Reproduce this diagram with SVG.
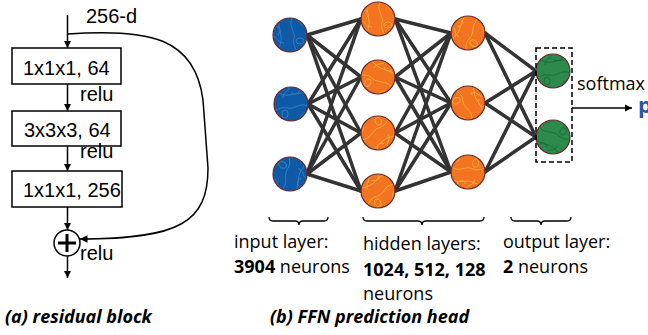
<svg xmlns="http://www.w3.org/2000/svg" xmlns:xlink="http://www.w3.org/1999/xlink" width="648" height="335" viewBox="0 0 648 335">
  <style>
    .arial { font-family: "Liberation Sans", Arial, sans-serif; font-size: 20px; fill: #000; }
    .lbl { font-family: "Open Sans", "DejaVu Sans", sans-serif; font-size: 18px; fill: #000; }
    .b { font-weight: bold; }
    .cap { font-family: "Open Sans", "DejaVu Sans", sans-serif; font-size: 18px; font-weight: bold; font-style: italic; fill: #000; }
    .box { fill: #fff; stroke: #000; stroke-width: 1.5; }
    .flow { stroke: #000; stroke-width: 1.5; fill: none; }
    .edge { stroke: #333; stroke-width: 3.5; stroke-linecap: round; }
    .brace { stroke: #000; stroke-width: 1.3; fill: none; }
    .node { stroke: #6b2c2c; stroke-width: 1.2; }
    .blue { fill: #0f5aa6; }
    .orange { fill: #f27320; }
    .green { fill: #2b8a4c; }
    .topo-blue { stroke: #3c84c6; }
    .topo-orange { stroke: #f9b23e; }
    .topo-green { stroke: #1c6a38; }
  </style>
  <defs>
    <marker id="arr" viewBox="0 0 10 10" refX="10" refY="5" markerWidth="5" markerHeight="5" orient="auto" markerUnits="strokeWidth">
      <path d="M0,0 L10,5 L0,10 z" fill="#000"/>
    </marker>
    <clipPath id="nodeClip"><circle r="16"/></clipPath>
    <!-- contour-line texture shared by all neurons -->
    <g id="topo" clip-path="url(#nodeClip)" fill="none" stroke-width="0.8">
      <path d="M-10,-17 C-14,-6 -6,0 -10,10 C-12,16 -6,18 -4,18"/>
      <path d="M2,-17 C-2,-8 6,-4 4,4 C2,12 8,14 6,18"/>
      <path d="M8,-14 C12,-8 16,-10 18,-4"/>
      <ellipse cx="10" cy="6" rx="4" ry="3"/>
      <path d="M-18,2 C-12,0 -14,8 -6,8"/>
      <path d="M-16,-8 C-10,-10 -8,-4 -12,0"/>
    </g>
  </defs>

  <!-- (a) residual block -->
  <g id="residual-block">
    <text class="arial" x="86" y="23">256-d</text>
    <g id="conv1">
      <rect class="box" x="12" y="48" width="109" height="36"/>
      <text class="arial" x="23" y="75">1x1x1, 64</text>
    </g>
    <g id="conv2">
      <rect class="box" x="12" y="111" width="109" height="35"/>
      <text class="arial" x="24" y="137">3x3x3, 64</text>
    </g>
    <g id="conv3">
      <rect class="box" x="12" y="171" width="110" height="36"/>
      <text class="arial" x="23" y="197">1x1x1, 256</text>
    </g>
    <g id="add">
      <circle cx="67" cy="243" r="13" fill="#fff" stroke="#000" stroke-width="1.5"/>
      <path d="M58,243 H76 M67,234 V252" stroke="#000" stroke-width="3"/>
    </g>
    <g id="residual-connectors">
      <line class="flow" x1="67.5" y1="15" x2="67.5" y2="48" marker-end="url(#arr)"/>
      <line class="flow" x1="67.5" y1="84" x2="67.5" y2="111" marker-end="url(#arr)"/>
      <line class="flow" x1="67.5" y1="146" x2="67.5" y2="171" marker-end="url(#arr)"/>
      <line class="flow" x1="67.5" y1="207" x2="67.5" y2="230" marker-end="url(#arr)"/>
      <line class="flow" x1="67.5" y1="256" x2="67.5" y2="278" marker-end="url(#arr)"/>
      <path class="flow" d="M67.5,34 C150,28 195,38 203,100 L208,168 C208,222 180,239 80,239" marker-end="url(#arr)"/>
    </g>
    <text class="arial" x="80" y="101">relu</text>
    <text class="arial" x="80" y="158">relu</text>
    <text class="arial" x="80" y="260">relu</text>
    <text class="cap" x="5" y="323">(a) residual block</text>
  </g>

  <!-- (b) FFN prediction head -->
  <g id="ffn-connectors">
    <!-- input -> hidden 1 -->
    <line class="edge" x1="307" y1="35" x2="361" y2="19"/>
    <line class="edge" x1="307" y1="35" x2="361" y2="77"/>
    <line class="edge" x1="307" y1="35" x2="361" y2="133"/>
    <line class="edge" x1="307" y1="35" x2="361" y2="191"/>
    <line class="edge" x1="308" y1="104" x2="361" y2="19"/>
    <line class="edge" x1="308" y1="104" x2="361" y2="77"/>
    <line class="edge" x1="308" y1="104" x2="361" y2="133"/>
    <line class="edge" x1="308" y1="104" x2="361" y2="191"/>
    <line class="edge" x1="307" y1="174" x2="361" y2="19"/>
    <line class="edge" x1="307" y1="174" x2="361" y2="77"/>
    <line class="edge" x1="307" y1="174" x2="361" y2="133"/>
    <line class="edge" x1="307" y1="174" x2="361" y2="191"/>
    <!-- hidden 1 -> hidden 2 -->
    <line class="edge" x1="395" y1="19" x2="451" y2="33"/>
    <line class="edge" x1="395" y1="19" x2="451" y2="103"/>
    <line class="edge" x1="395" y1="19" x2="451" y2="172"/>
    <line class="edge" x1="395" y1="77" x2="451" y2="33"/>
    <line class="edge" x1="395" y1="77" x2="451" y2="103"/>
    <line class="edge" x1="395" y1="77" x2="451" y2="172"/>
    <line class="edge" x1="395" y1="133" x2="451" y2="33"/>
    <line class="edge" x1="395" y1="133" x2="451" y2="103"/>
    <line class="edge" x1="395" y1="133" x2="451" y2="172"/>
    <line class="edge" x1="395" y1="191" x2="451" y2="33"/>
    <line class="edge" x1="395" y1="191" x2="451" y2="103"/>
    <line class="edge" x1="395" y1="191" x2="451" y2="172"/>
    <!-- hidden 2 -> output -->
    <line class="edge" x1="485" y1="33" x2="536" y2="71"/>
    <line class="edge" x1="485" y1="33" x2="536" y2="137"/>
    <line class="edge" x1="485" y1="103" x2="536" y2="71"/>
    <line class="edge" x1="485" y1="103" x2="536" y2="137"/>
    <line class="edge" x1="485" y1="172" x2="536" y2="71"/>
    <line class="edge" x1="485" y1="172" x2="536" y2="137"/>
    <!-- softmax output -->
    <line class="flow" x1="572" y1="108" x2="632" y2="108" marker-end="url(#arr)"/>
  </g>

  <g id="in1" transform="translate(290,35)"><circle class="node blue" r="17"/><use xlink:href="#topo" class="topo-blue"/></g>
  <g id="in2" transform="translate(291,104)"><circle class="node blue" r="17"/><use xlink:href="#topo" class="topo-blue" transform="rotate(90)"/></g>
  <g id="in3" transform="translate(290,174)"><circle class="node blue" r="17"/><use xlink:href="#topo" class="topo-blue" transform="rotate(200)"/></g>

  <g id="h1a" transform="translate(378,19)"><circle class="node orange" r="17"/><use xlink:href="#topo" class="topo-orange"/></g>
  <g id="h1b" transform="translate(378,77)"><circle class="node orange" r="17"/><use xlink:href="#topo" class="topo-orange" transform="rotate(120)"/></g>
  <g id="h1c" transform="translate(378,133)"><circle class="node orange" r="17"/><use xlink:href="#topo" class="topo-orange" transform="rotate(240)"/></g>
  <g id="h1d" transform="translate(378,191)"><circle class="node orange" r="17"/><use xlink:href="#topo" class="topo-orange" transform="rotate(60)"/></g>

  <g id="h2a" transform="translate(468,33)"><circle class="node orange" r="17"/><use xlink:href="#topo" class="topo-orange" transform="rotate(30)"/></g>
  <g id="h2b" transform="translate(468,103)"><circle class="node orange" r="17"/><use xlink:href="#topo" class="topo-orange" transform="rotate(160)"/></g>
  <g id="h2c" transform="translate(468,172)"><circle class="node orange" r="17"/><use xlink:href="#topo" class="topo-orange" transform="rotate(280)"/></g>

  <g id="out1" transform="translate(553,71)"><circle class="node green" r="17"/><use xlink:href="#topo" class="topo-green" transform="rotate(90)"/></g>
  <g id="out2" transform="translate(553,137)"><circle class="node green" r="17"/><use xlink:href="#topo" class="topo-green" transform="rotate(300)"/></g>

  <g id="output-box">
    <rect x="536" y="48" width="36" height="114" fill="none" stroke="#000" stroke-width="1.5" stroke-dasharray="5,3"/>
  </g>

  <text class="lbl" x="577" y="90">softmax</text>
  <text class="lbl b" x="638" y="113" style="font-size:22px; fill:#2f55a4">p</text>

  <g id="braces">
    <path class="brace" d="M269,217 Q269,221 273,221 L295,221 Q299,221 299,225 Q299,221 303,221 L324,221 Q328,221 328,217"/>
    <path class="brace" d="M363,217 Q363,221 367,221 L418,221 Q422,221 422,225 Q422,221 426,221 L480,221 Q484,221 484,217"/>
    <path class="brace" d="M511,217 Q511,221 515,221 L537,221 Q541,221 541,225 Q541,221 545,221 L567,221 Q571,221 571,217"/>
  </g>

  <g id="layer-labels">
    <text class="lbl" x="234" y="248">input layer:</text>
    <text class="lbl" x="234" y="273"><tspan class="b">3904</tspan> neurons</text>
    <text class="lbl" x="363" y="250">hidden layers:</text>
    <text class="lbl b" x="363" y="276">1024, 512, 128</text>
    <text class="lbl" x="363" y="300">neurons</text>
    <text class="lbl" x="503" y="248">output layer:</text>
    <text class="lbl" x="503" y="273"><tspan class="b">2</tspan> neurons</text>
  </g>

  <text class="cap" x="270" y="323">(b) FFN prediction head</text>
</svg>
